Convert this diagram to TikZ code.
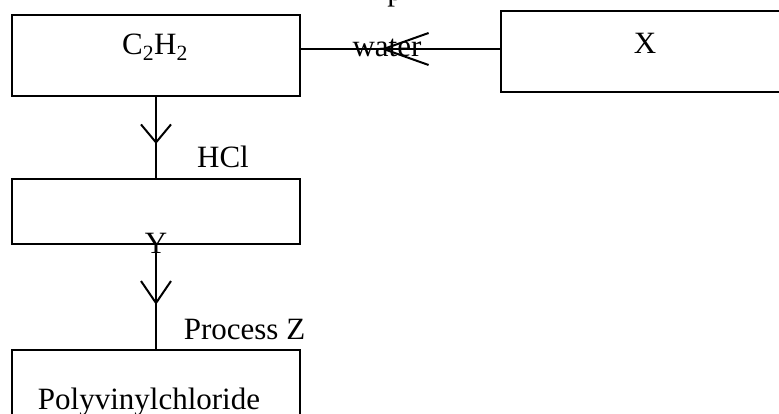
\documentclass[tikz,border=0pt]{standalone}
\usepackage{fontspec}
\setmainfont{Liberation Serif}
\usetikzlibrary{arrows.meta,decorations.markings}

\begin{document}
\begin{tikzpicture}[x=1pt,y=-1pt,
    font=\fontsize{31}{37}\selectfont,
    block_main/.style ={rectangle, draw=black, line width=2pt,
      minimum width=288pt, minimum height=81pt, inner sep=0pt},
    block_low/.style ={block_main, minimum height=65pt},
    block_text/.style ={anchor=base, inner sep=0pt},
    line/.style ={draw, line width=2pt},
    head/.style n args={3}{postaction={decorate}, decoration={markings,
      mark=at position #1 with {\arrow{Straight Barb[length=#2pt,width=#3pt]}}}}]
    \useasboundingbox (0,0) rectangle (779,414);
    % boxes of the scheme
    \node [block_main] (c2h2) at (156,55.5) {};
    \node [block_main, minimum width=309pt] (xbox) at (655.5,51.5) {};
    \node [block_low] (ybox) at (156,211.5) {};
    \node [block_main, minimum height=90pt] (pvc) at (156,395) {};
    % texts
    \node [block_text] (c2h2_t) at (155,55) {C\textsubscript{2}H\textsubscript{2}};
    \node [block_text] (x_t) at (645,54) {X};
    \node [block_text] (y_t) at (156,254) {Y};
    \node [block_text] (pvc_t) at (149,409) {Polyvinylchloride};
    \node [block_text] (top_t) at (395,0.5) {p};
    \node [block_text] (water) at (387,57) {water};
    \node [block_text] (hcl) at (223,168) {HCl};
    \node [block_text] (procz) at (244.5,339) {Process Z};
    % connecting nodes with paths
    \begin{scope}[every path/.style=line]
      \path [head={0.6}{45}{32}] ([yshift=2.5pt]xbox.west) -- ([yshift=2.5pt]xbox.west -| c2h2.east);
      \path [head={0.58}{18}{30}] (c2h2.south) -- (ybox.north);
      \path [head={0.575}{22}{30}] (ybox.south) -- (pvc.north);
    \end{scope}
\end{tikzpicture}
\end{document}
